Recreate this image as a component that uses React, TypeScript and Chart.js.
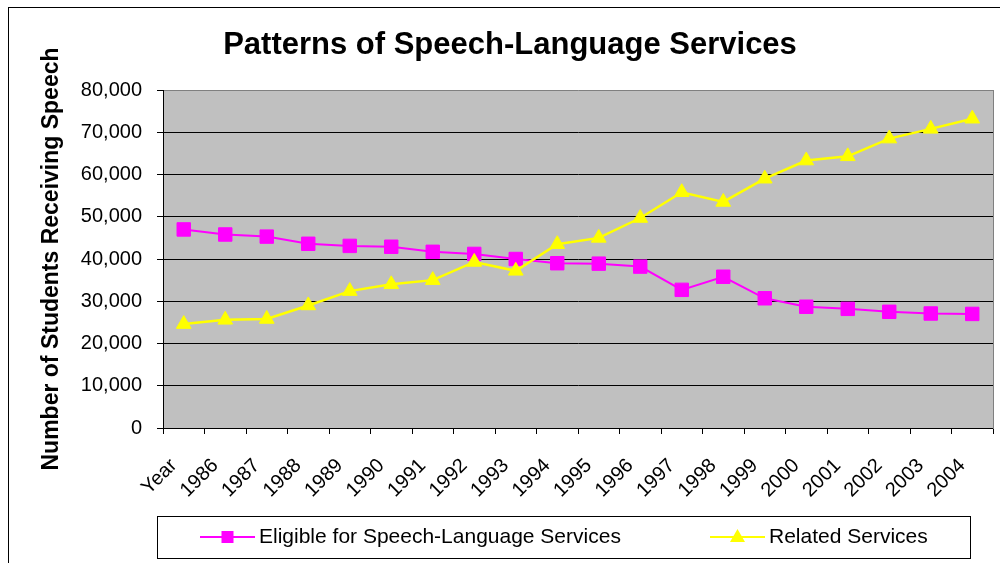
import React, { useEffect, useRef } from 'react';
import { Chart, registerables } from 'chart.js';

Chart.register(...registerables);

const FONT = '"Liberation Sans", Arial, sans-serif';
Chart.defaults.font.family = FONT;

const chartTitle = 'Patterns of Speech-Language Services';
const yAxisTitle = 'Number of Students Receiving Speech';
const categories = ['Year', '1986', '1987', '1988', '1989', '1990', '1991', '1992', '1993', '1994', '1995', '1996', '1997', '1998', '1999', '2000', '2001', '2002', '2003', '2004'];
const eligibleLabel = 'Eligible for Speech-Language Services';
const eligible = [47000, 45800, 45300, 43600, 43100, 42900, 41700, 41200, 40000, 39000, 38900, 38200, 32700, 35800, 30700, 28700, 28200, 27500, 27100, 27000];
const relatedLabel = 'Related Services';
const related = [24600, 25600, 25800, 29000, 32400, 34000, 35000, 39300, 37200, 43500, 45000, 49700, 55800, 53500, 59000, 63300, 64300, 68500, 70800, 73200];
const yMin = 0;
const yMax = 80000;
const yStep = 10000;

const MAGENTA = '#FF00FF';
const YELLOW = '#FFFF00';

const framePlugin = {
  id: 'frame',
  beforeDraw(chart: any) {
    const { ctx, chartArea } = chart;
    ctx.save();
    ctx.fillStyle = '#C0C0C0';
    ctx.fillRect(chartArea.left, chartArea.top, chartArea.right - chartArea.left, chartArea.bottom - chartArea.top);
    ctx.restore();
  },
};

const legendPlugin = {
  id: 'boxLegend',
  afterDraw(chart: any) {
    const { ctx } = chart;
    ctx.save();
    ctx.strokeStyle = '#000';
    ctx.lineWidth = 1;
    ctx.strokeRect(149.5, 509.5, 813, 42);
    const cy = 530;
    const starts = [192, 702];
    ctx.font = '21px ' + FONT;
    ctx.textBaseline = 'middle';
    ctx.textAlign = 'left';
    chart.data.datasets.forEach((ds: any, i: number) => {
      const x = starts[i];
      ctx.strokeStyle = ds.borderColor;
      ctx.lineWidth = 2;
      ctx.beginPath();
      ctx.moveTo(x, cy);
      ctx.lineTo(x + 55, cy);
      ctx.stroke();
      ctx.fillStyle = ds.pointBackgroundColor;
      const mx = x + 27.5;
      if (ds.pointStyle === 'rect') {
        ctx.fillRect(mx - 6, cy - 6, 12, 12);
      } else {
        ctx.beginPath();
        ctx.moveTo(mx, cy - 8);
        ctx.lineTo(mx + 7.5, cy + 5);
        ctx.lineTo(mx - 7.5, cy + 5);
        ctx.closePath();
        ctx.fill();
      }
      ctx.fillStyle = '#000';
      ctx.fillText(ds.label, x + 59, cy);
    });
    ctx.restore();
  },
};

export default function App() {
  const ref = useRef<HTMLCanvasElement>(null);
  useEffect(() => {
    const chart = new Chart(ref.current as HTMLCanvasElement, {
      type: 'line',
      data: {
        labels: categories,
        datasets: [
          {
            label: eligibleLabel,
            data: eligible,
            borderColor: MAGENTA,
            backgroundColor: MAGENTA,
            pointBackgroundColor: MAGENTA,
            pointBorderColor: MAGENTA,
            pointStyle: 'rect',
            pointRadius: 9.5,
            pointBorderWidth: 1,
            borderWidth: 2,
            yAxisID: 'y',
            order: 1,
          } as any,
          {
            label: relatedLabel,
            data: related,
            borderColor: YELLOW,
            backgroundColor: YELLOW,
            pointBackgroundColor: YELLOW,
            pointBorderColor: YELLOW,
            pointStyle: 'triangle',
            pointRadius: 8.5,
            pointBorderWidth: 1,
            borderWidth: 2.5,
            yAxisID: 'y',
            order: 0,
          } as any,
        ],
      },
      options: {
        responsive: false,
        animation: false,
        events: [],
        layout: { padding: { left: 0, right: 0, top: 0, bottom: 51 } },
        plugins: {
          legend: { display: false },
          tooltip: { enabled: false },
          title: {
            display: true,
            text: chartTitle,
            color: '#000',
            font: { size: 31, weight: 'bold' },
            padding: { top: 20, bottom: 25.8 },
          },
        },
        scales: {
          x: {
            type: 'category',
            offset: true,
            grid: { display: true, drawOnChartArea: false, drawTicks: true, tickLength: 6, color: '#000', offset: true },
            border: { display: true, color: '#000', width: 1 },
            ticks: { autoSkip: false, minRotation: 45, maxRotation: 45, color: '#000', font: { size: 20 }, padding: 20, labelOffset: -10 },
            afterFit: (s: any) => { s.height = 80; },
          },
          y: {
            type: 'linear',
            position: 'left',
            min: yMin,
            max: yMax,
            ticks: {
              stepSize: yStep,
              color: '#000',
              font: { size: 20 },
              padding: 15,
              callback: (v: any) => Number(v).toLocaleString('en-US'),
            },
            grid: {
              color: (c: any) => (c.tick && c.tick.value === yMax ? '#808080' : '#000'),
              tickColor: '#000',
              tickLength: 6,
              lineWidth: 1,
            },
            border: { display: true, color: '#000', width: 1 },
            title: {
              display: true,
              text: yAxisTitle,
              color: '#000',
              font: { size: 23, weight: 'bold' },
              padding: { top: 30, bottom: 0 },
            },
            afterFit: (s: any) => { s.width = 155; },
          },
          y2: {
            type: 'linear',
            position: 'right',
            display: true,
            grid: { display: false, drawTicks: false },
            ticks: { display: false },
            border: { display: true, color: '#808080', width: 1 },
            afterFit: (s: any) => { s.width = 19; },
          },
        },
      } as any,
      plugins: [framePlugin, legendPlugin],
    });
    return () => chart.destroy();
  }, []);
  return (
    <div
      style={{
        position: 'absolute',
        left: 8,
        top: 7,
        width: 992,
        height: 556,
        overflow: 'hidden',
        boxSizing: 'border-box',
        borderTop: '1px solid #000',
        borderLeft: '1px solid #000',
        background: '#fff',
      }}
    >
      <style>{'html{overflow:hidden}'}</style>
      <canvas
        ref={ref}
        width={1004}
        height={552}
        style={{ width: '1004px', height: '552px', display: 'block', marginTop: -1, marginLeft: -1 }}
      />
    </div>
  );
}
